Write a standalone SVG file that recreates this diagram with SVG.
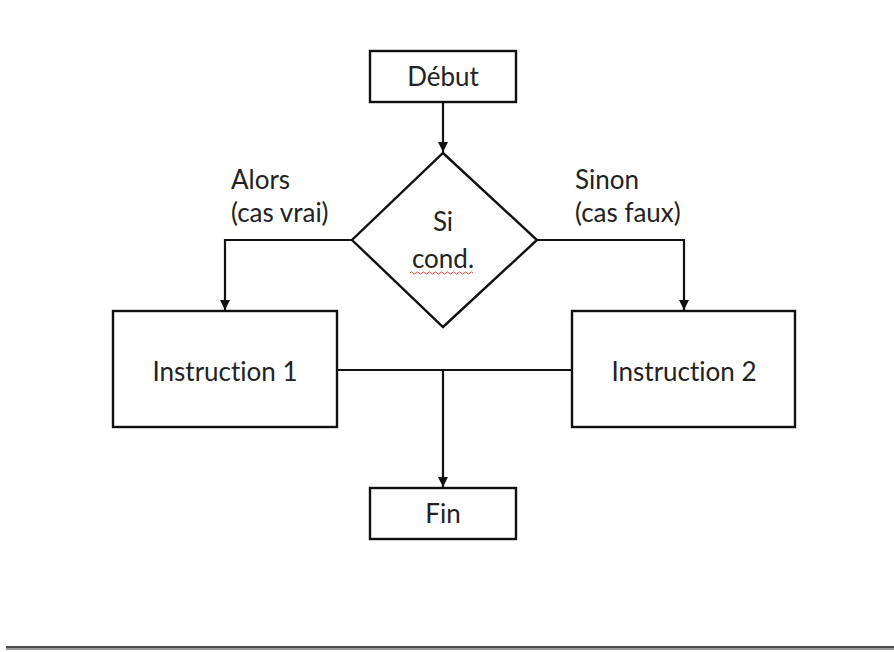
<svg xmlns="http://www.w3.org/2000/svg" width="894" height="652" viewBox="0 0 894 652">
  <defs>
    <style>
      .box { fill: #fff; stroke: #111; stroke-width: 2.4; }
      .edge { fill: none; stroke: #111; stroke-width: 2.2; }
      .lbl { font-family: Lato, "Open Sans", "Liberation Sans", sans-serif; font-size: 26px; fill: #222; font-variant-ligatures: none; }
      .mid { text-anchor: middle; }
    </style>
    <marker id="arr" viewBox="0 0 10 10" refX="10" refY="5" markerWidth="10" markerHeight="10" markerUnits="userSpaceOnUse" orient="auto">
      <path d="M0,0 L10,5 L0,10 z" fill="#111"/>
    </marker>
  </defs>
  <rect width="894" height="652" fill="#fff"/>

  <g id="connectors">
    <path class="edge" d="M443,102 V152" marker-end="url(#arr)"/>
    <path class="edge" d="M352,240 H225 V310" marker-end="url(#arr)"/>
    <path class="edge" d="M537,240 H684 V310" marker-end="url(#arr)"/>
    <path class="edge" d="M337,370 H572"/>
    <path class="edge" d="M443,370 V487" marker-end="url(#arr)"/>
  </g>

  <g id="debut">
    <rect class="box" x="370" y="51" width="146" height="51"/>
    <text class="lbl mid" x="443" y="86">Début</text>
  </g>

  <g id="condition">
    <polygon class="box" points="443,153 537,240 443,327 352,240"/>
    <text class="lbl mid" x="443" y="231">Si</text>
    <text class="lbl mid" x="443" y="268">cond.</text>
    <path d="M410,273 q1.5,-2 3,0 t3,0 t3,0 t3,0 t3,0 t3,0 t3,0 t3,0 t3,0 t3,0 t3,0 t3,0 t3,0 t3,0 t3,0 t3,0 t3,0 t3,0 t3,0 t3,0 t3,0" fill="none" stroke="#e03030" stroke-width="0.9"/>
  </g>

  <g id="label-alors">
    <text class="lbl" x="231" y="189">Alors</text>
    <text class="lbl" x="231" y="222">(cas vrai)</text>
  </g>

  <g id="label-sinon">
    <text class="lbl" x="575" y="189">Sinon</text>
    <text class="lbl" x="575" y="222">(cas faux)</text>
  </g>

  <g id="instruction1">
    <rect class="box" x="113" y="311" width="224" height="116"/>
    <text class="lbl mid" x="225" y="381">Instruction 1</text>
  </g>

  <g id="instruction2">
    <rect class="box" x="572" y="311" width="223" height="116"/>
    <text class="lbl mid" x="684" y="381">Instruction 2</text>
  </g>

  <g id="fin">
    <rect class="box" x="370" y="488" width="146" height="51"/>
    <text class="lbl mid" x="443" y="523">Fin</text>
  </g>

  <!-- page edge at the bottom -->
  <rect x="6" y="646" width="888" height="2" fill="#4a4a4a"/>
  <rect x="6" y="648" width="888" height="2" fill="#9a9a9a"/>
</svg>
